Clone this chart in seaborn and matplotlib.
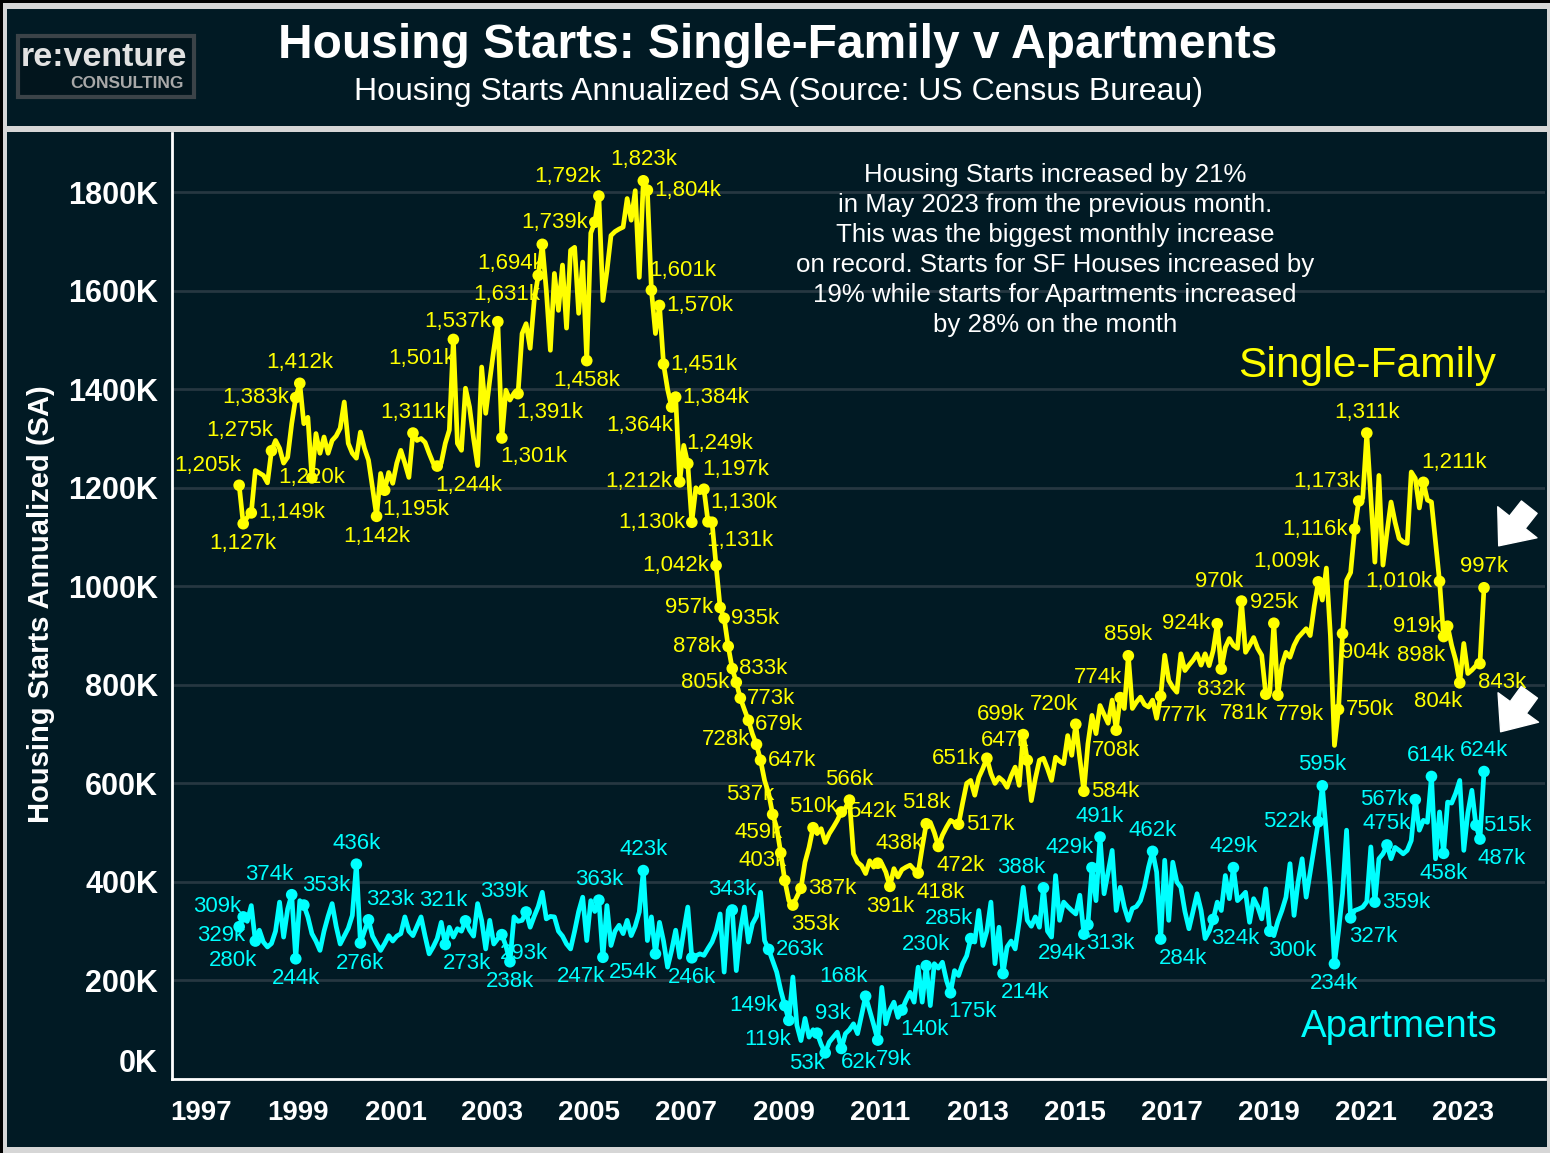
import numpy as np
import pandas as pd
import matplotlib
matplotlib.use("Agg")
import matplotlib.pyplot as plt
import seaborn as sns
from matplotlib.patches import Rectangle
from matplotlib.transforms import ScaledTranslation

# monthly housing starts, thousands (SAAR), Sep 1997 .. May 2023
sf_1997 = [1205, 1127, 1140, 1149]
sf_1998 = [1235, 1230, 1225, 1210, 1275, 1296, 1280, 1250, 1262, 1330, 1383, 1412]
sf_1999 = [1330, 1343, 1220, 1310, 1270, 1303, 1270, 1296, 1305, 1321, 1374, 1290]
sf_2000 = [1270, 1260, 1313, 1280, 1256, 1200, 1142, 1229, 1195, 1231, 1209, 1250]
sf_2001 = [1276, 1250, 1221, 1311, 1296, 1300, 1292, 1270, 1250, 1244, 1250, 1290]
sf_2002 = [1317, 1501, 1290, 1276, 1402, 1364, 1300, 1245, 1445, 1351, 1418, 1480]
sf_2003 = [1537, 1301, 1398, 1378, 1392, 1391, 1513, 1533, 1483, 1580, 1631, 1694]
sf_2004 = [1600, 1479, 1635, 1560, 1652, 1524, 1682, 1688, 1554, 1658, 1458, 1717]
sf_2005 = [1739, 1792, 1580, 1640, 1712, 1720, 1725, 1729, 1787, 1743, 1803, 1627]
sf_2006 = [1823, 1804, 1601, 1513, 1570, 1451, 1400, 1364, 1384, 1212, 1286, 1249]
sf_2007 = [1130, 1200, 1190, 1197, 1131, 1130, 1042, 957, 935, 878, 833, 805]
sf_2008 = [773, 750, 728, 700, 679, 647, 606, 580, 537, 510, 459, 403]
sf_2009 = [362, 353, 370, 387, 440, 470, 510, 498, 508, 480, 498, 511]
sf_2010 = [525, 542, 550, 566, 457, 440, 433, 417, 443, 430, 438, 437]
sf_2011 = [420, 391, 427, 410, 425, 430, 434, 425, 418, 470, 518, 521]
sf_2012 = [500, 472, 495, 511, 525, 520, 517, 560, 600, 606, 576, 612]
sf_2013 = [630, 651, 620, 600, 612, 605, 592, 615, 633, 596, 699, 647]
sf_2014 = [565, 610, 647, 651, 630, 606, 653, 645, 640, 697, 657, 720]
sf_2015 = [650, 584, 680, 738, 701, 758, 740, 722, 769, 708, 774, 752]
sf_2016 = [859, 752, 765, 775, 760, 755, 769, 732, 777, 860, 809, 795]
sf_2017 = [785, 863, 829, 840, 850, 863, 840, 863, 839, 870, 924, 832]
sf_2018 = [876, 894, 880, 874, 970, 866, 880, 896, 874, 860, 781, 785]
sf_2019 = [925, 779, 840, 866, 856, 880, 896, 905, 914, 900, 960, 1009]
sf_2020 = [972, 1037, 900, 677, 750, 904, 1012, 1028, 1116, 1173, 1179, 1311]
sf_2021 = [1180, 1049, 1225, 1043, 1110, 1171, 1130, 1097, 1090, 1087, 1232, 1219]
sf_2022 = [1159, 1211, 1175, 1171, 1090, 1010, 898, 919, 880, 850, 804, 884]
sf_2023 = [823, 830, 839, 843, 997]

ap_1997 = [309, 329, 320, 352]
ap_1998 = [280, 302, 278, 268, 275, 300, 359, 288, 345, 374, 244, 362]
ap_1999 = [353, 329, 295, 280, 261, 300, 330, 356, 310, 274, 290, 306]
ap_2000 = [332, 436, 276, 300, 323, 290, 275, 261, 275, 291, 280, 290]
ap_2001 = [295, 329, 300, 291, 310, 329, 290, 254, 268, 285, 318, 273]
ap_2002 = [308, 288, 305, 300, 321, 302, 290, 356, 322, 264, 322, 274]
ap_2003 = [285, 293, 270, 238, 329, 320, 322, 339, 308, 330, 350, 379]
ap_2004 = [325, 330, 329, 300, 290, 274, 264, 300, 340, 369, 281, 362]
ap_2005 = [340, 363, 247, 352, 271, 300, 312, 295, 322, 291, 310, 339]
ap_2006 = [423, 281, 329, 254, 318, 280, 227, 261, 302, 247, 300, 349]
ap_2007 = [246, 250, 254, 251, 265, 278, 300, 335, 217, 342, 343, 220]
ap_2008 = [300, 349, 278, 315, 330, 379, 281, 263, 240, 217, 180, 149]
ap_2009 = [119, 207, 109, 78, 123, 85, 100, 93, 70, 53, 75, 85]
ap_2010 = [95, 62, 92, 100, 112, 92, 130, 168, 139, 110, 79, 186]
ap_2011 = [112, 140, 156, 125, 140, 160, 176, 156, 227, 156, 230, 149]
ap_2012 = [234, 225, 237, 200, 175, 220, 210, 234, 250, 285, 278, 342]
ap_2013 = [271, 300, 359, 234, 308, 214, 268, 280, 264, 320, 389, 322]
ap_2014 = [310, 329, 308, 388, 300, 288, 413, 322, 359, 350, 342, 335]
ap_2015 = [373, 294, 313, 429, 362, 491, 376, 420, 464, 342, 389, 349]
ap_2016 = [322, 346, 350, 362, 390, 430, 462, 420, 284, 444, 322, 440]
ap_2017 = [400, 389, 340, 305, 340, 376, 342, 285, 300, 324, 359, 342]
ap_2018 = [413, 366, 429, 362, 370, 379, 318, 366, 350, 325, 386, 300]
ap_2019 = [291, 320, 342, 369, 437, 332, 400, 447, 369, 420, 470, 522]
ap_2020 = [595, 498, 389, 234, 300, 376, 505, 327, 342, 345, 349, 360]
ap_2021 = [471, 359, 447, 457, 475, 447, 470, 464, 457, 464, 484, 567]
ap_2022 = [505, 525, 521, 614, 447, 542, 458, 562, 560, 580, 606, 464]
ap_2023 = [540, 586, 515, 487, 624]

years = range(1997, 2024)
sf = sum([globals()["sf_%d" % y] for y in years], [])
ap = sum([globals()["ap_%d" % y] for y in years], [])
dates = pd.date_range("1997-09-01", "2023-05-01", freq="MS")

# annotated points: month -> label placement
sf_labels = {"1997-09": "ul", "1997-10": "d", "1997-12": "r", "1998-05": "ul", "1998-11": "l",
             "1998-12": "u", "1999-03": "c", "2000-07": "d", "2000-09": "dr", "2001-04": "u",
             "2001-10": "dr", "2002-02": "dl", "2003-01": "l", "2003-02": "dr", "2003-06": "dr",
             "2003-11": "dl", "2003-12": "dl", "2004-11": "d", "2005-01": "l", "2005-02": "ul",
             "2006-01": "u", "2006-02": "r", "2006-03": "ur", "2006-05": "r", "2006-06": "r",
             "2006-08": "dl", "2006-09": "r", "2006-10": "l", "2006-12": "ur", "2007-01": "l",
             "2007-04": "ur", "2007-05": "dr", "2007-06": "ur", "2007-07": "l", "2007-08": "l",
             "2007-09": "r", "2007-10": "l", "2007-11": "r", "2007-12": "l", "2008-01": "r",
             "2008-03": "dl", "2008-05": "ur", "2008-06": "r", "2008-09": "ul", "2008-11": "ul",
             "2008-12": "ul", "2009-02": "dr", "2009-04": "r", "2009-07": "u", "2010-02": "r",
             "2010-04": "u", "2010-11": "ur", "2011-02": "d", "2011-09": "dr", "2011-11": "u",
             "2012-02": "dr", "2012-07": "r", "2013-02": "l", "2013-11": "ul", "2013-12": "ul",
             "2014-12": "ul", "2015-02": "r", "2015-10": "d", "2015-11": "ul", "2016-01": "u",
             "2016-09": "dr", "2017-11": "l", "2017-12": "d", "2018-05": "ul", "2018-11": "dl",
             "2019-01": "u", "2019-02": "dr", "2019-12": "ul", "2020-05": "r", "2020-06": "dr",
             "2020-09": "l", "2020-10": "ul", "2020-12": "u", "2022-02": "ur", "2022-06": "l",
             "2022-07": "dl", "2022-08": "l", "2022-11": "dl", "2023-04": "dr", "2023-05": "u"}
ap_labels = {"1997-09": "ul", "1997-10": "dl", "1998-01": "dl", "1998-10": "ul", "1998-11": "d",
             "1999-01": "ur", "2000-02": "u", "2000-03": "d", "2000-05": "ur", "2001-12": "dr",
             "2002-05": "ul", "2003-02": "dr", "2003-04": "d", "2003-08": "ul", "2005-02": "u",
             "2005-03": "dl", "2006-01": "u", "2006-04": "dl", "2007-01": "d", "2007-11": "u",
             "2008-08": "r", "2008-12": "l", "2009-01": "dl", "2009-08": "ur", "2009-10": "dls",
             "2010-02": "drs", "2010-08": "ul", "2010-11": "dr", "2011-05": "dr", "2011-11": "u",
             "2012-05": "dr", "2012-10": "ul", "2013-06": "dr", "2014-04": "ul", "2015-02": "dl",
             "2015-03": "dr", "2015-04": "ul", "2015-06": "u", "2016-07": "u", "2016-09": "dr",
             "2017-10": "dr", "2018-03": "u", "2018-12": "dr", "2019-12": "l", "2020-01": "u",
             "2020-04": "d", "2020-08": "dr", "2021-02": "r", "2021-05": "u", "2021-12": "l",
             "2022-04": "u", "2022-07": "d", "2023-03": "r", "2023-04": "dr", "2023-05": "u"}

BG = "#011a24"
YEL = "#ffff00"
CYA = "#00ffff"
W, H = 1550, 1153

t = dates.year + (dates.month - 1) / 12 + 0.11
df = pd.DataFrame({"t": np.concatenate([t, t]),
                   "value": sf + ap,
                   "month": list(dates.strftime("%Y-%m")) * 2,
                   "series": ["Single-Family"] * len(sf) + ["Apartments"] * len(ap)})
pal = {"Single-Family": YEL, "Apartments": CYA}

sns.set_theme(style="dark")
plt.rcParams["font.family"] = ["Liberation Sans", "DejaVu Sans"]

fig = plt.figure(figsize=(W / 100, H / 100), dpi=100)
fig.patch.set_facecolor("#d6d6d6")

def fx(x):
    return x / W

def fy(y):
    return 1 - y / H

# header and panel backgrounds
fig.add_artist(Rectangle((fx(7), fy(126)), fx(1540), (126 - 9) / H, transform=fig.transFigure,
                         facecolor=BG, edgecolor="none", zorder=0))
fig.add_artist(Rectangle((fx(7), fy(1147)), fx(1540), (1147 - 132) / H, transform=fig.transFigure,
                         facecolor=BG, edgecolor="none", zorder=0))
fig.add_artist(Rectangle((0, fy(3)), 1, 3 / H, transform=fig.transFigure, facecolor="black", edgecolor="none"))
fig.add_artist(Rectangle((0, 0), 3 / W, 1, transform=fig.transFigure, facecolor="black", edgecolor="none"))

ax = fig.add_axes([fx(172), fy(1079), fx(1545 - 172), (1079 - 133) / H])
ax.set_facecolor(BG)

sns.lineplot(data=df, x="t", y="value", hue="series", palette=pal, estimator=None,
             linewidth=3.4, legend=False, ax=ax, zorder=3)

POS = {"u": ("center", 0, 21), "d": ("center", 0, -20), "l": ("right", -7, 0), "r": ("left", 7, 0),
       "ul": ("right", 2, 20), "ur": ("left", -2, 20), "dl": ("right", 2, -19), "dr": ("left", -2, -19),
       "c": ("center", 0, 0), "dls": ("right", 0, -11), "drs": ("left", 0, -14)}

for name, labels, col in [("Single-Family", sf_labels, YEL), ("Apartments", ap_labels, CYA)]:
    sub = df[(df.series == name) & (df.month.isin(labels.keys()))]
    sns.scatterplot(data=sub, x="t", y="value", color=col, s=70, edgecolor="none", ax=ax, zorder=4)
    for _, row in sub.iterrows():
        ha, dx, dy = POS[labels[row.month]]
        ax.annotate(f"{int(row.value):,}k", (row.t, row.value), xytext=(dx, dy),
                    textcoords="offset pixels", ha=ha, va="center", color=col, fontsize=16, zorder=5)

ax.set_xlim(1996.392, 2024.701)
ax.set_ylim(0, 1920)
ax.set_xlabel("")
ax.set_ylabel("")

ax.set_yticks(range(0, 1801, 200))
ax.set_yticklabels([f"{v}K" for v in range(0, 1801, 200)], fontsize=22, fontweight="bold", color="white")
ax.set_xticks(range(1997, 2025))
ax.set_xticklabels([str(y) if y % 2 == 1 else "" for y in range(1997, 2025)],
                   fontsize=20, fontweight="bold", color="white")
ax.tick_params(axis="both", direction="out", length=8, width=2, color="white")
ax.tick_params(axis="x", pad=7)
ax.tick_params(axis="y", pad=2)
ax.get_yticklabels()[0].set_transform(ax.get_yticklabels()[0].get_transform()
                                      + ScaledTranslation(0, 0.18, fig.dpi_scale_trans))

ax.grid(False)
ax.yaxis.grid(True, color="#263741", linewidth=2)
for s in ["top", "right"]:
    ax.spines[s].set_visible(False)
for s in ["left", "bottom"]:
    ax.spines[s].set_color("white")
    ax.spines[s].set_linewidth(2)

fig.text(fx(41), fy(604), "Housing Starts Annualized (SA)", rotation=90, ha="center", va="center",
         fontsize=21, fontweight="bold", color="white")

# titles
fig.text(fx(778), fy(45), "Housing Starts: Single-Family v Apartments", ha="center", va="center",
         fontsize=34.5, fontweight="bold", color="white")
fig.text(fx(778), fy(92), "Housing Starts Annualized SA (Source: US Census Bureau)", ha="center",
         va="center", fontsize=23, color="white")

# logo
fig.add_artist(Rectangle((fx(18), fy(97)), fx(176), 61 / H, transform=fig.transFigure,
                         facecolor="#02151d", edgecolor="#3b4348", linewidth=3))
fig.text(fx(104), fy(58), "re:venture", ha="center", va="center", fontsize=24.5,
         fontweight="bold", color="#e2e2e2")
fig.text(fx(127), fy(83), "CONSULTING", ha="center", va="center", fontsize=12.5,
         fontweight="bold", color="#a8a8a8")

# commentary
note = ["Housing Starts increased by 21%",
        "in May 2023 from the previous month.",
        "This was the biggest monthly increase",
        "on record. Starts for SF Houses increased by",
        "19% while starts for Apartments increased",
        "by 28% on the month"]
for i, line in enumerate(note):
    fig.text(fx(1055), fy(175 + 30 * i), line, ha="center", va="center", fontsize=18.6, color="white")

fig.text(fx(1367), fy(366), "Single-Family", ha="center", va="center", fontsize=30.7, color=YEL)
fig.text(fx(1399), fy(1027), "Apartments", ha="center", va="center", fontsize=27.7, color=CYA)

for tail, head in [((1531, 505), (1497, 548)), ((1531, 690), (1499, 734))]:
    ax.annotate("", xy=(head[0], H - head[1]), xytext=(tail[0], H - tail[1]), xycoords="figure pixels",
                textcoords="figure pixels",
                arrowprops=dict(arrowstyle="simple,head_width=1.5,head_length=0.9,tail_width=0.6",
                                fc="white", ec="white", mutation_scale=24))

fig.savefig("out.png", dpi=100, facecolor=fig.get_facecolor())
